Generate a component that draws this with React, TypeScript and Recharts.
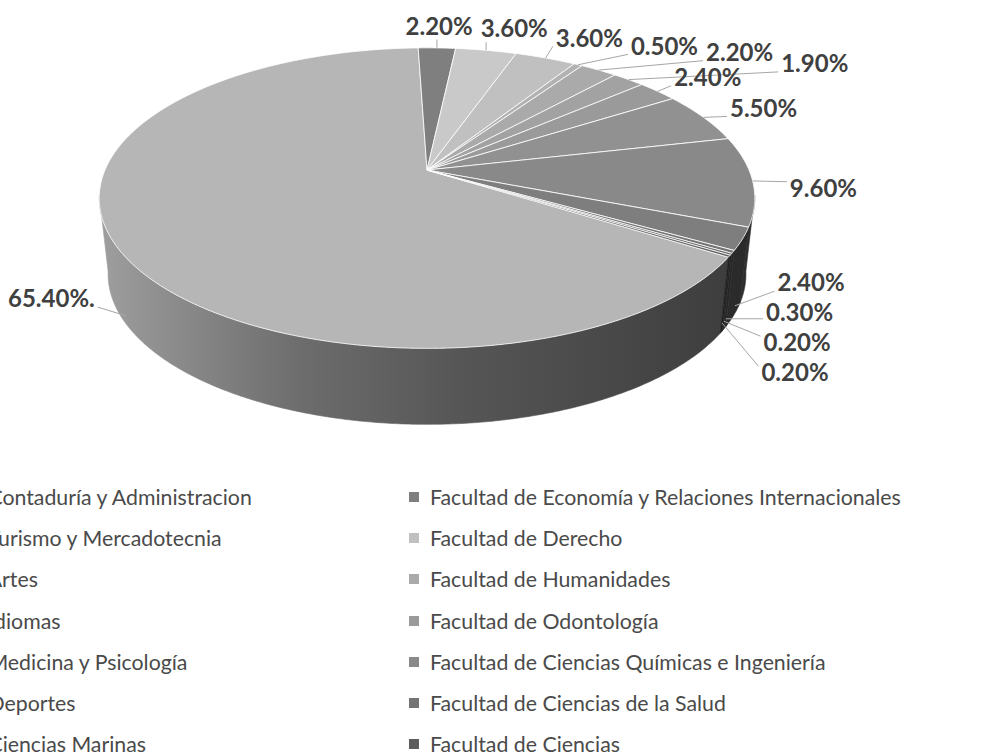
import React from "react";
import { PieChart, Pie, Cell, Legend } from "recharts";

// ============================================
// Data
// ============================================

const FACULTADES = [
  "Facultad de Contaduría y Administracion",
  "Facultad de Economía y Relaciones Internacionales",
  "Facultad de Turismo y Mercadotecnia",
  "Facultad de Derecho",
  "Facultad de Artes",
  "Facultad de Humanidades",
  "Facultad de Idiomas",
  "Facultad de Odontología",
  "Facultad de Medicina y Psicología",
  "Facultad de Ciencias Químicas e Ingeniería",
  "Facultad de Deportes",
  "Facultad de Ciencias de la Salud",
  "Facultad de Ciencias Marinas",
  "Facultad de Ciencias",
];

const PORCENTAJES = [65.4, 2.2, 3.6, 3.6, 0.5, 2.2, 1.9, 2.4, 5.5, 9.6, 2.4, 0.3, 0.2, 0.2];

const ETIQUETAS = [
  "65.40%.",
  "2.20%",
  "3.60%",
  "3.60%",
  "0.50%",
  "2.20%",
  "1.90%",
  "2.40%",
  "5.50%",
  "9.60%",
  "2.40%",
  "0.30%",
  "0.20%",
  "0.20%",
];

const GRISES = [
  "#b6b6b6",
  "#7f7f7f",
  "#c9c9c9",
  "#c0c0c0",
  "#b2b2b2",
  "#aaaaaa",
  "#a2a2a2",
  "#9a9a9a",
  "#919191",
  "#898989",
  "#7e7e7e",
  "#747474",
  "#6a6a6a",
  "#5c5c5c",
];

const rows = FACULTADES.map((name, i) => ({ name, value: PORCENTAJES[i] }));

// ============================================
// 3D geometry (Excel-like perspective pie)
// ============================================

const CX = 427;
const CY = 170;
const RX = 322;
const RY = 145;
const P = 0.187; // perspective strength
const DEPTH = 76;
const BOTTOM_SCALE = 0.973;
const START = -32.7;

const WALL_STOPS: [number, number][] = [
  [0, 0.86],
  [0.3, 0.6],
  [0.55, 0.47],
  [1, 0.33],
];

function proj(cx: number, cy: number, deg: number, rx = RX, ry = RY) {
  const a = (deg * Math.PI) / 180;
  const u = Math.cos(a);
  const v = -Math.sin(a);
  const w = 1 / (1 - P * v);
  return { x: cx + rx * u * w, y: cy + ry * v * w, v };
}

function shade(hex: string, f: number) {
  const n = parseInt(hex.slice(1), 16);
  const r = Math.round(((n >> 16) & 255) * f);
  const g = Math.round(((n >> 8) & 255) * f);
  const b = Math.round((n & 255) * f);
  return `rgb(${r},${g},${b})`;
}

function Slice3D(props: any) {
  const { cx, cy, startAngle, endAngle, fill } = props;
  const span = endAngle - startAngle;
  const n = Math.max(2, Math.ceil(Math.abs(span) * 2));
  const arc: { x: number; y: number; v: number }[] = [];
  for (let i = 0; i <= n; i++) arc.push(proj(cx, cy, startAngle + (span * i) / n));

  const topPath =
    `M${cx},${cy}` + arc.map((p) => `L${p.x.toFixed(2)},${p.y.toFixed(2)}`).join("") + "Z";

  const runs: { x: number; y: number }[][] = [];
  let cur: { x: number; y: number }[] = [];
  for (const p of arc) {
    if (p.v >= P * 0.9) cur.push(p);
    else {
      if (cur.length > 1) runs.push(cur);
      cur = [];
    }
  }
  if (cur.length > 1) runs.push(cur);

  const id = `wall-${Math.round(Math.abs(startAngle) * 1000)}`;
  const wallPath = (run: { x: number; y: number }[]) => {
    const bottom = run
      .slice()
      .reverse()
      .map((p) => `L${(cx + (p.x - cx) * BOTTOM_SCALE).toFixed(2)},${(p.y + DEPTH).toFixed(2)}`)
      .join("");
    return `M${run[0].x.toFixed(2)},${run[0].y.toFixed(2)}` +
      run.slice(1).map((p) => `L${p.x.toFixed(2)},${p.y.toFixed(2)}`).join("") +
      bottom + "Z";
  };

  return (
    <g>
      <defs>
        <linearGradient id={id} gradientUnits="userSpaceOnUse" x1={cx - RX} y1={0} x2={cx + RX} y2={0}>
          {WALL_STOPS.map(([o, f]) => (
            <stop key={o} offset={o} stopColor={shade(fill, f)} />
          ))}
        </linearGradient>
      </defs>
      {runs.map((run, k) => (
        <path key={k} d={wallPath(run)} fill={`url(#${id})`} stroke={`url(#${id})`} strokeWidth={0.6} />
      ))}
      <path d={topPath} fill={fill} stroke="#ffffff" strokeOpacity={0.8} strokeWidth={1} strokeLinejoin="round" />
    </g>
  );
}

// ============================================
// Labels with leader lines
// ============================================

const LABEL_FONT = 24;
const LABEL_H = 25;
let measureCtx: CanvasRenderingContext2D | null = null;
function textWidth(s: string) {
  if (!measureCtx) measureCtx = document.createElement("canvas").getContext("2d");
  if (!measureCtx) return s.length * LABEL_FONT * 0.55;
  measureCtx.font = `bold ${LABEL_FONT}px Lato`;
  return measureCtx.measureText(s).width;
}

type Box = { x: number; y: number; w: number; h: number };
const placed: Box[] = [];

function renderLabel(props: any) {
  const { cx, cy, midAngle } = props;
  const index: number = typeof props.index === "number" ? props.index : FACULTADES.indexOf(props.name);
  if (index === 0) placed.length = 0;
  const text = ETIQUETAS[index];
  const w = textWidth(text);
  const h = LABEL_H;

  const edge = proj(cx, cy, midAngle);
  const front = edge.v > P;
  const anchor = front
    ? { x: cx + (edge.x - cx) * (1 - (1 - BOTTOM_SCALE) * 0.88), y: edge.y + DEPTH * 0.88 }
    : { x: edge.x, y: edge.y };

  const outer = proj(cx, cy, midAngle, RX + 70, RY + 26);
  let x = outer.x;
  let y = outer.y + (outer.v > 0 ? DEPTH * 0.95 * outer.v : 0);

  for (let iter = 0; iter < 20; iter++) {
    const hit = placed.find(
      (p) => Math.abs(x - p.x) < (w + p.w) / 2 + 2 && Math.abs(y - p.y) < (h + p.h) / 2
    );
    if (!hit) break;
    if (y < cy) x = hit.x + (hit.w + w) / 2 + 8;
    else y = hit.y + (hit.h + h) / 2 + 5;
  }
  placed.push({ x, y, w, h });

  const left = x - w / 2;
  const right = x + w / 2;
  const top = y - h / 2;
  const bottom = y + h / 2;
  let tx: number;
  let ty: number;
  if (anchor.x < left) {
    tx = left - 3;
    ty = Math.min(Math.max(anchor.y, top + 6), bottom - 4);
  } else if (anchor.x > right) {
    tx = right + 3;
    ty = Math.min(Math.max(anchor.y, top + 6), bottom - 4);
  } else if (anchor.y > bottom) {
    tx = anchor.x;
    ty = bottom + 1;
  } else {
    tx = anchor.x;
    ty = top - 1;
  }
  const showLine = Math.hypot(tx - anchor.x, ty - anchor.y) > 3;

  return (
    <g key={`lbl-${index}`}>
      {showLine && (
        <line x1={anchor.x} y1={anchor.y} x2={tx} y2={ty} stroke="#a6a6a6" strokeWidth={1} />
      )}
      <text
        x={x}
        y={y}
        dy="0.36em"
        textAnchor="middle"
        fontFamily="Lato, 'Open Sans', sans-serif"
        fontWeight={700}
        fontSize={LABEL_FONT}
        fill="#404040"
      >
        {text}
      </text>
    </g>
  );
}

// ============================================
// Legend (two columns, row-wise like Excel)
// ============================================

const LEGEND_COL_X = [-124, 430];
const LEGEND_ROW_Y = 497;
const LEGEND_ROW_STEP = 41.2;

function renderLegend(props: any) {
  const payload: any[] =
    props.payload && props.payload.length
      ? props.payload
          .slice()
          .sort((a: any, b: any) => FACULTADES.indexOf(a.value) - FACULTADES.indexOf(b.value))
      : FACULTADES.map((value, i) => ({ value, color: GRISES[i] }));
  return (
    <div style={{ position: "relative", width: 984, height: 753 }}>
      {payload.map((item, i) => {
        const col = i % 2;
        const row = Math.floor(i / 2);
        return (
          <div
            key={i}
            style={{
              position: "absolute",
              left: LEGEND_COL_X[col] - 21,
              top: LEGEND_ROW_Y + row * LEGEND_ROW_STEP - 14,
              height: 28,
              display: "flex",
              alignItems: "center",
              whiteSpace: "nowrap",
              fontFamily: "Lato, 'Open Sans', sans-serif",
              fontSize: 21.3,
              color: "#4a4a4a",
            }}
          >
            <span
              style={{
                display: "inline-block",
                width: 10,
                height: 10,
                marginRight: 11,
                background: item.color,
              }}
            />
            <span>{item.value}</span>
          </div>
        );
      })}
    </div>
  );
}

// ============================================
// App
// ============================================

export default function App() {
  return (
    <div
      style={{
        position: "absolute",
        left: 0,
        top: 0,
        width: 984,
        height: 753,
        overflow: "hidden",
        background: "#ffffff",
      }}
    >
      <PieChart width={984} height={753} margin={{ top: 0, right: 0, bottom: 0, left: 0 }}>
        <Pie
          data={rows}
          dataKey="value"
          nameKey="name"
          cx={CX}
          cy={CY}
          outerRadius={RY}
          startAngle={START}
          endAngle={START - 360}
          shape={Slice3D}
          activeShape={Slice3D}
          inactiveShape={Slice3D}
          label={renderLabel}
          labelLine={false}
          stroke="none"
          isAnimationActive={false}
        >
          {rows.map((r, i) => (
            <Cell key={r.name} fill={GRISES[i]} />
          ))}
        </Pie>
        <Legend
          layout="horizontal"
          align="center"
          verticalAlign="middle"
          itemSorter={null}
          content={renderLegend}
          wrapperStyle={{ left: 0, top: 0, width: 984, height: 753, pointerEvents: "none" }}
        />
      </PieChart>
    </div>
  );
}
